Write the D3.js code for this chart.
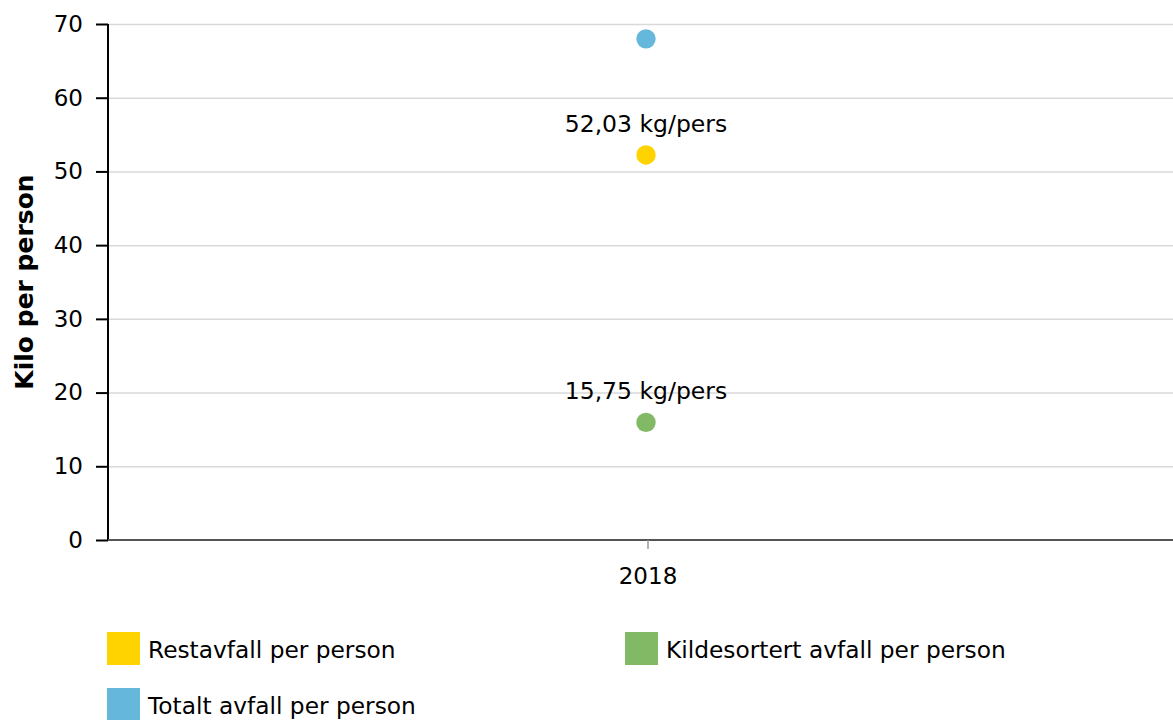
<!DOCTYPE html>
<html><head><meta charset="utf-8">
<script src="https://cdn.jsdelivr.net/npm/d3@7"></script>
<style>
body{margin:0;background:#fff;}
text{font-family:Verdana,"DejaVu Sans",sans-serif;fill:#000;}
</style></head>
<body><svg id="c" width="1173" height="720"></svg>
<script>
const categories = ["2018"];
const seriesNames = ["Restavfall per person","Kildesortert avfall per person","Totalt avfall per person"];
const seriesColors = ["#ffd300","#82b964","#65b7dc"];
const restavfall = [52.03];
const kildesortert = [15.75];
const totalt = [67.78];
const labelsRest = ["52,03 kg/pers"];
const labelsKilde = ["15,75 kg/pers"];
const yTicks = [0,10,20,30,40,50,60,70];

const FONT = 'Verdana,"DejaVu Sans",sans-serif';
const svg = d3.select("#c");
const L = 108, R = 1184, T = 24, B = 540;
const x = d3.scaleBand().domain(categories).range([L, R]);
const y = d3.scaleLinear().domain([0,70]).range([B, T]);

// gridlines
svg.append("g").selectAll("line").data(yTicks.filter(d=>d>0)).join("line")
  .attr("x1", L).attr("x2", 1173).attr("y1", d=>y(d)+0.5).attr("y2", d=>y(d)+0.5)
  .attr("stroke", "#d9d9d9").attr("stroke-width", 1.5);

// y axis
const ya = svg.append("g").attr("transform", `translate(${L},0)`)
  .call(d3.axisLeft(y).tickValues(yTicks).tickSize(12).tickPadding(13));
ya.select(".domain").attr("stroke","#000").attr("stroke-width",2).attr("d",`M0,${T}V${B}`);
ya.selectAll(".tick line").attr("stroke","#000").attr("stroke-width",2);
ya.selectAll(".tick text").style("font-size","23px").style("font-family",FONT).attr("fill","#000");

// x axis
const xa = svg.append("g").attr("transform", `translate(2,${B})`)
  .call(d3.axisBottom(x).tickSize(9).tickPadding(19));
xa.select(".domain").attr("stroke","#555").attr("stroke-width",2).attr("d",`M${L-2},0H1173`);
xa.selectAll(".tick line").attr("stroke","#999").attr("stroke-width",1.5);
xa.selectAll(".tick text").style("font-size","23px").style("font-family",FONT).attr("fill","#000");

// y title
svg.append("text").attr("transform","translate(33,282) rotate(-90)")
  .attr("text-anchor","middle").style("font-size","25px").style("font-weight","bold")
  .text("Kilo per person");

const cx = d => x(d) + x.bandwidth()/2;
const series = [restavfall, kildesortert, totalt];
series.forEach((vals,i)=>{
  svg.append("g").attr("transform","translate(0,-1.5)").selectAll("circle").data(categories).join("circle")
    .attr("cx", d=>cx(d)).attr("cy",(d,j)=>y(vals[j])).attr("r",9.7)
    .attr("fill", seriesColors[i]);
});
[[restavfall,labelsRest],[kildesortert,labelsKilde]].forEach(([vals,labs])=>{
  svg.append("g").attr("transform","translate(0,-1.5)").selectAll("text").data(categories).join("text")
    .attr("x", d=>cx(d)).attr("y",(d,j)=>y(vals[j])-23)
    .attr("text-anchor","middle").style("font-size","23.5px").text((d,j)=>labs[j]);
});

// legend
const legPos = [[107,632],[625,632],[107,688]];
seriesNames.forEach((n,i)=>{
  const [lx,ly] = legPos[i];
  svg.append("rect").attr("x",lx).attr("y",ly).attr("width",33).attr("height",33).attr("fill",seriesColors[i]);
  svg.append("text").attr("x",lx+41).attr("y",ly+26).style("font-size","23.3px").text(n);
});
</script></body></html>
